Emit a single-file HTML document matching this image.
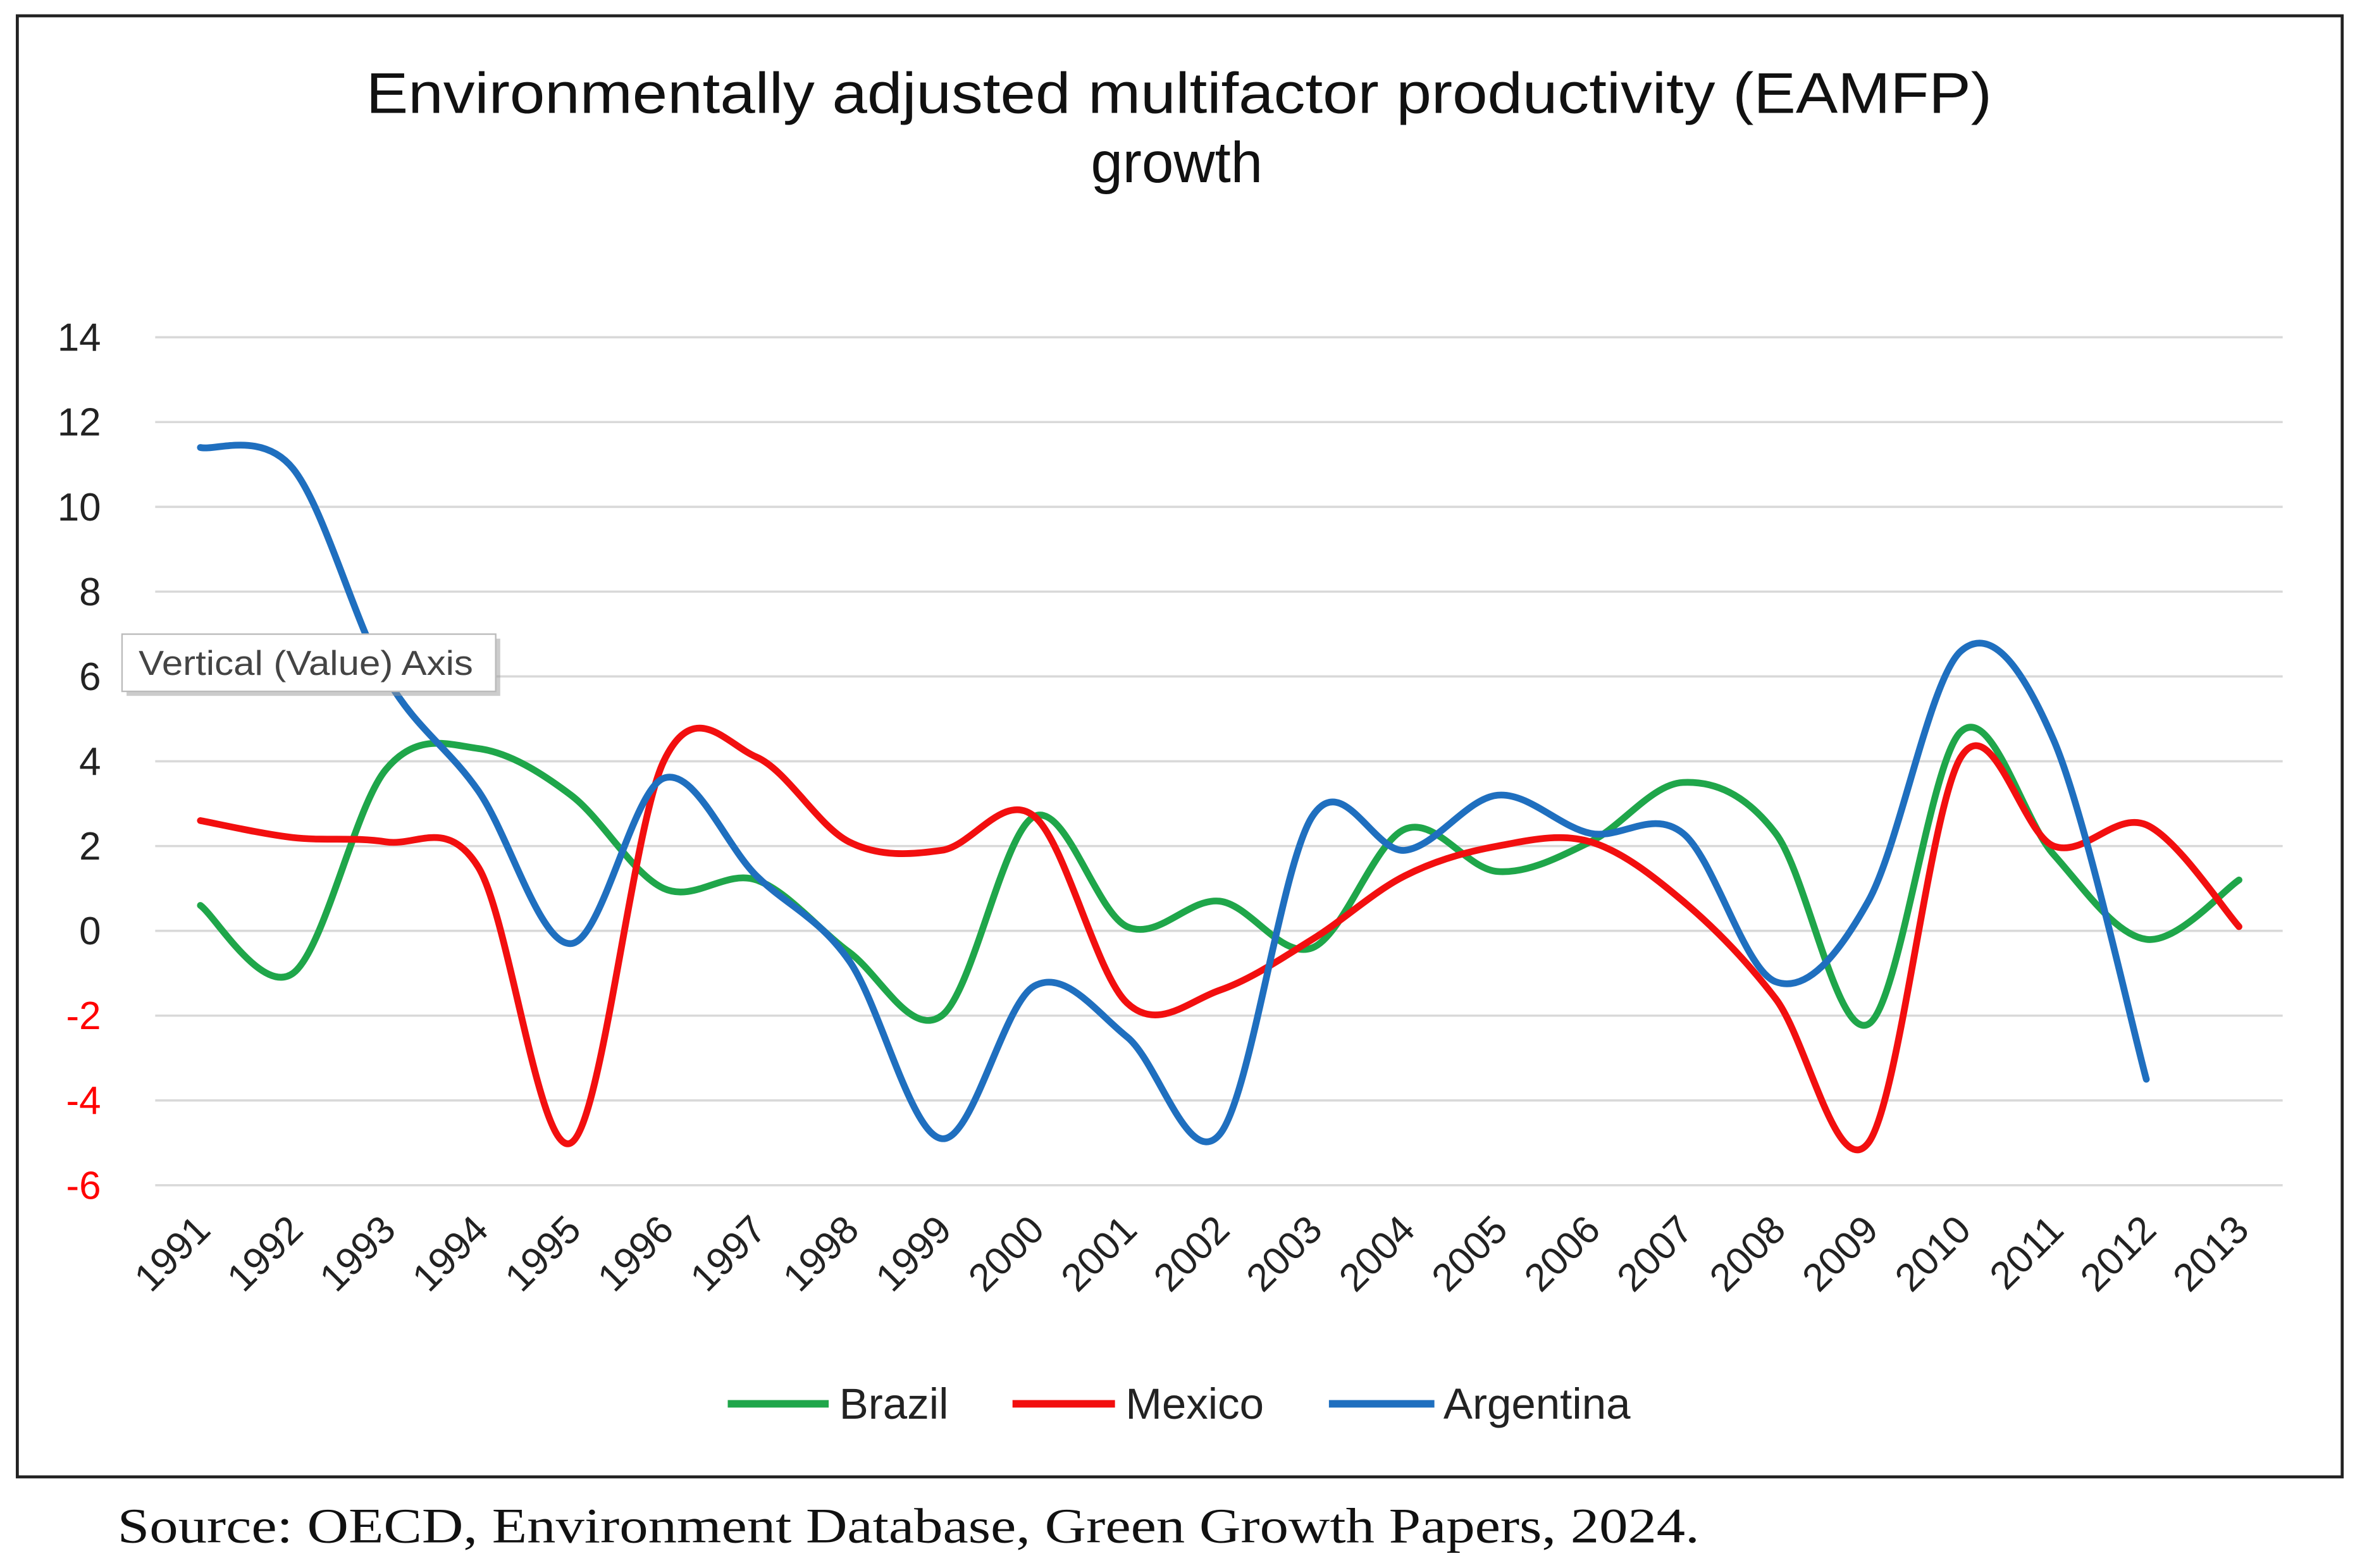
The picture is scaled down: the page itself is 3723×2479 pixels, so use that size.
<!DOCTYPE html>
<html><head><meta charset="utf-8"><style>
html,body{margin:0;padding:0;background:#fff;}
svg{display:block;}
</style></head><body>
<svg id="chart" width="3723" height="2479" viewBox="0 0 1563 1041" preserveAspectRatio="none" xmlns="http://www.w3.org/2000/svg">
<rect x="11.5" y="10.5" width="1543" height="970" fill="#fff" stroke="#222" stroke-width="2"/>
<text x="243" y="75" textLength="1079" lengthAdjust="spacingAndGlyphs" font-family="Liberation Sans, sans-serif" font-size="38" fill="#111">Environmentally adjusted multifactor productivity (EAMFP)</text>
<text x="781" y="121" text-anchor="middle" font-family="Liberation Sans, sans-serif" font-size="38" fill="#111">growth</text>
<g id="grid"></g><g id="yticks"></g><g id="xticks"></g><g id="series"></g>
<g font-family="Liberation Sans, sans-serif" font-size="29">
<line x1="483" y1="932" x2="550" y2="932" stroke="#1fa64a" stroke-width="5"/>
<text x="557" y="942" fill="#222">Brazil</text>
<line x1="672" y1="932" x2="740" y2="932" stroke="#f20f0f" stroke-width="5"/>
<text x="747" y="942" fill="#222">Mexico</text>
<line x1="882" y1="932" x2="952" y2="932" stroke="#1f6fbf" stroke-width="5"/>
<text x="958" y="942" fill="#222">Argentina</text>
</g>
<g>
<rect x="84" y="424" width="248" height="38" fill="#999" opacity="0.5"/>
<rect x="81" y="421" width="248" height="38" fill="#fff" stroke="#bbb" stroke-width="1"/>
<text x="92" y="448" textLength="222" lengthAdjust="spacingAndGlyphs" font-family="Liberation Sans, sans-serif" font-size="23" fill="#444">Vertical (Value) Axis</text>
</g>
<text x="78" y="1024" textLength="1050" lengthAdjust="spacingAndGlyphs" font-family="Liberation Serif, serif" font-size="33" fill="#111">Source: OECD, Environment Database, Green Growth Papers, 2024.</text>
</svg>
<script>
const years=["1991","1992","1993","1994","1995","1996","1997","1998","1999","2000","2001","2002","2003","2004","2005","2006","2007","2008","2009","2010","2011","2012","2013"];
const brazil=[0.6,-1.0,3.8,4.3,3.2,1.0,1.2,-0.5,-2.0,2.7,0.1,0.7,-0.4,2.4,1.4,2.1,3.5,2.3,-2.2,4.7,1.8,-0.2,1.2];
const mexico=[2.6,2.2,2.1,1.5,-5.0,4.0,4.1,2.1,1.9,2.7,-1.7,-1.4,-0.2,1.3,2.0,2.1,0.7,-1.6,-5.0,4.1,2.0,2.5,0.1];
const argentina=[11.4,10.9,6.0,3.3,-0.3,3.6,1.3,-0.7,-4.9,-1.3,-2.5,-4.8,2.7,1.9,3.2,2.3,2.3,-1.2,0.7,6.6,4.5,-3.5];
const yTicks=[14,12,10,8,6,4,2,0,-2,-4,-6];
const NS="http://www.w3.org/2000/svg";
function X(i){return 133+i*(1486-133)/22;}
function Y(v){return 618-v*(787-224)/20;}
const grid=document.getElementById('grid'),yt=document.getElementById('yticks'),xt=document.getElementById('xticks'),sg=document.getElementById('series');
yTicks.forEach(v=>{
 const l=document.createElementNS(NS,'line');
 
 
 l.setAttribute('x1',103);l.setAttribute('x2',1515);l.setAttribute('y1',Y(v));l.setAttribute('y2',Y(v));
 l.setAttribute('stroke','#d9d9d9');l.setAttribute('stroke-width','1.5');grid.appendChild(l);
 const t=document.createElementNS(NS,'text');
 
 
 t.setAttribute('x',67);t.setAttribute('y',Y(v)+9);t.setAttribute('text-anchor','end');
 t.setAttribute('font-family','Liberation Sans, sans-serif');t.setAttribute('font-size','26');
 t.setAttribute('fill',v<0?'#f00':'#222');t.textContent=v;yt.appendChild(t);
});
years.forEach((y,i)=>{
 const t=document.createElementNS(NS,'text');
 
 
 const x=X(i)+8,yy=818;
 t.setAttribute('x',x);t.setAttribute('y',yy);t.setAttribute('text-anchor','end');
 t.setAttribute('transform','rotate(-45 '+x+' '+yy+')');
 t.setAttribute('font-family','Liberation Sans, sans-serif');t.setAttribute('font-size','26');
 t.setAttribute('fill','#222');t.textContent=y;xt.appendChild(t);
});
function smooth(vals){
 const p=vals.map((v,i)=>[X(i),Y(v)]);
 let d='M'+p[0][0]+','+p[0][1];
 for(let i=0;i<p.length-1;i++){
  const p0=p[i-1]||p[i],p1=p[i],p2=p[i+1],p3=p[i+2]||p2;
  const c1=[p1[0]+(p2[0]-p0[0])/6,p1[1]+(p2[1]-p0[1])/6];
  const c2=[p2[0]-(p3[0]-p1[0])/6,p2[1]-(p3[1]-p1[1])/6];
  d+=' C'+c1+' '+c2+' '+p2;
 }
 return d;
}
[[brazil,'#1fa64a','series-brazil'],[mexico,'#f20f0f','series-mexico'],[argentina,'#1f6fbf','series-argentina']].forEach(s=>{
 const pa=document.createElementNS(NS,'path');
 
 
 pa.setAttribute('d',smooth(s[0]));pa.setAttribute('fill','none');
 pa.setAttribute('stroke',s[1]);pa.setAttribute('stroke-width','4.5');pa.setAttribute('stroke-linecap','round');
 sg.appendChild(pa);
});
</script>
</body></html>
